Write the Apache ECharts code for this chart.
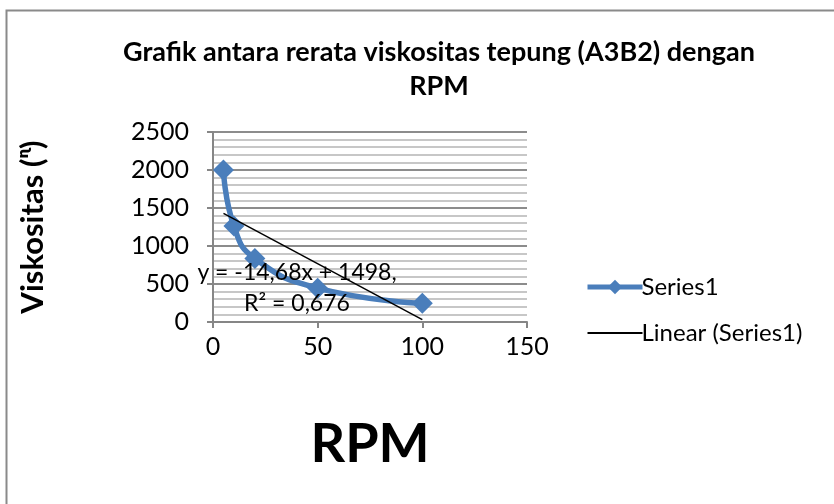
<!DOCTYPE html>
<html>
<head>
<meta charset="utf-8">
<script src="https://cdn.jsdelivr.net/npm/echarts@6/dist/echarts.min.js"></script>
<style>
  html, body { margin: 0; padding: 0; background: #fff; }
  #chart { width: 834px; height: 504px; }
</style>
</head>
<body>
<div id="chart"></div>
<script>
// RPM vs mean viscosity
const rpm = [5, 10, 20, 50, 100];
const viskositas = [2000, 1262, 835, 445, 248];
const trendText = ["y = -14,68x + 1498,", "R² = 0,676"];

// least squares fit for the trendline (Linear (Series1))
function linearFit(xs, ys) {
  const n = xs.length;
  const mx = xs.reduce((a, b) => a + b, 0) / n;
  const my = ys.reduce((a, b) => a + b, 0) / n;
  let sxy = 0, sxx = 0;
  for (let i = 0; i < n; i++) {
    sxy += (xs[i] - mx) * (ys[i] - my);
    sxx += (xs[i] - mx) * (xs[i] - mx);
  }
  const slope = sxy / sxx;
  return { slope: slope, intercept: my - slope * mx };
}

const fit = linearFit(rpm, viskositas);
const xMin = Math.min(...rpm), xMax = Math.max(...rpm);
const trendData = [
  [xMin, fit.intercept + fit.slope * xMin],
  [xMax, fit.intercept + fit.slope * xMax]
];

const font = "Lato, 'Open Sans', sans-serif";
const chart = echarts.init(document.getElementById("chart"));

chart.setOption({
  backgroundColor: "#fff",
  animation: false,
  title: {
    text: "Grafik antara rerata viskositas tepung (A3B2) dengan\nRPM",
    left: 434,
    textAlign: "center",
    top: 30,
    textStyle: { fontFamily: font, fontSize: 27, fontWeight: "bold", color: "#000", lineHeight: 34 }
  },
  grid: { left: 213, right: 307, top: 132, bottom: 182 },
  legend: {
    orient: "vertical",
    left: 580,
    top: 270,
    itemWidth: 55,
    itemHeight: 18,
    itemGap: 22,
    textStyle: { fontFamily: font, fontSize: 24, color: "#000", padding: [0, 0, 0, -6] },
    data: [
      { name: "Series1", lineStyle: { width: 5 } },
      { name: "Linear (Series1)", itemStyle: { opacity: 0 } }
    ]
  },
  xAxis: {
    type: "value",
    min: 0,
    max: 150,
    interval: 50,
    name: "RPM",
    nameLocation: "middle",
    nameGap: 96,
    nameTextStyle: { fontFamily: font, fontSize: 54, fontWeight: "bold", color: "#000" },
    axisLine: { onZero: false, lineStyle: { color: "#868686", width: 2 } },
    axisTick: { show: true, inside: false, length: 6, lineStyle: { color: "#868686", width: 2 } },
    axisLabel: { fontFamily: font, fontSize: 25, color: "#000", margin: 12 },
    splitLine: { show: false }
  },
  yAxis: {
    type: "value",
    min: 0,
    max: 2500,
    interval: 500,
    name: "Viskositas (ᶯ)",
    nameLocation: "middle",
    nameGap: 165,
    nameRotate: 90,
    nameTextStyle: { fontFamily: font, fontSize: 31, fontWeight: "bold", color: "#000" },
    axisLine: { show: true, lineStyle: { color: "#868686", width: 2 } },
    axisTick: { show: true, inside: false, length: 6, lineStyle: { color: "#868686", width: 2 } },
    axisLabel: { fontFamily: font, fontSize: 25, color: "#000", margin: 24, formatter: (v) => String(v) },
    splitLine: { show: true, lineStyle: { color: "#8c8c8c", width: 2 } },
    minorTick: { show: false, splitNumber: 5 },
    minorSplitLine: { show: true, lineStyle: { color: "#b5b5b5", width: 1.5 } }
  },
  series: [
    {
      name: "Series1",
      type: "line",
      smooth: 0.5,
      data: rpm.map((x, i) => [x, viskositas[i]]),
      symbol: "diamond",
      symbolSize: 21,
      lineStyle: { color: "#4A7EBB", width: 5.5 },
      itemStyle: { color: "#4A7EBB" },
      z: 3
    },
    {
      name: "Linear (Series1)",
      type: "line",
      data: trendData,
      symbol: "none",
      lineStyle: { color: "#000", width: 1.5 },
      itemStyle: { color: "#000" },
      z: 4
    }
  ],
  graphic: [
    {
      type: "rect",
      left: 4,
      top: 8,
      shape: { width: 900, height: 600 },
      style: { fill: null, stroke: "#8a8a8a", lineWidth: 2 },
      silent: true
    },
    {
      type: "text",
      x: 297,
      y: 288,
      style: {
        text: trendText.join("\n"),
        fontFamily: font,
        fontSize: 23,
        lineHeight: 31,
        fill: "#000",
        align: "center",
        verticalAlign: "middle"
      },
      z: 10
    }
  ]
});
</script>
</body>
</html>
